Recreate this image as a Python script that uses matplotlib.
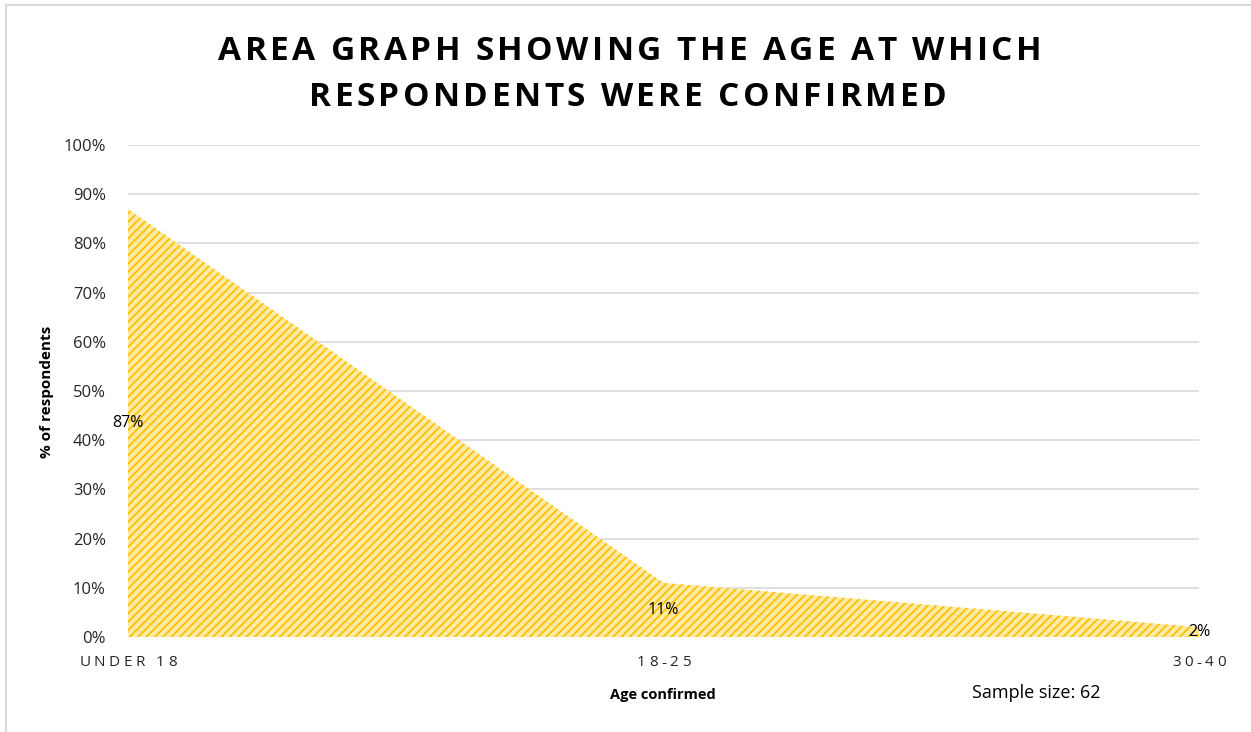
import matplotlib
matplotlib.use("Agg")
import matplotlib.pyplot as plt
from matplotlib.lines import Line2D

categories = ["UNDER 18", "18-25", "30-40"]
values = [87, 11, 2]
yticks = [0, 10, 20, 30, 40, 50, 60, 70, 80, 90, 100]
title_lines = ["AREA GRAPH SHOWING THE AGE AT WHICH", "RESPONDENTS WERE CONFIRMED"]

plt.rcParams['font.family'] = ['Open Sans', 'DejaVu Sans']
plt.rcParams['hatch.color'] = '#FFC000'
plt.rcParams['hatch.linewidth'] = 1.3

W, H = 1251, 732
fig = plt.figure(figsize=(W/100, H/100), dpi=100)
ax = fig.add_axes([128/W, 1-637/H, (1199-128)/W, (637-145)/H])

x = list(range(len(categories)))
ax.fill_between(x, values, 0, facecolor='#FFEBA8', edgecolor='#FFC000', hatch='////', linewidth=0)
ax.set_xlim(0, len(categories)-1)
ax.set_ylim(0, 100)
ax.set_yticks(yticks)
ax.set_yticklabels([f"{v}%" for v in yticks], fontsize=12, color='#262626')
ax.yaxis.grid(True, color='#D9D9D9', linewidth=1.2)
ax.set_axisbelow(True)
ax.tick_params(axis='y', length=0, pad=16)
ax.tick_params(axis='x', length=0)
ax.set_xticks(x)
ax.set_xticklabels([])
for s in ax.spines.values():
    s.set_visible(False)

for xi, v in zip(x, values):
    ax.text(xi, v/2, f"{v}%", ha='center', va='center', fontsize=11.5, color='#000000')

renderer = fig.canvas.get_renderer()

def spaced_text(xc, yc, s, spacing, **kw):
    # place characters individually with extra letter spacing (pixel coords)
    widths = []
    for ch in s:
        t = fig.text(0, 0, ch if ch != ' ' else 'n', **kw)
        w = t.get_window_extent(renderer).width
        if ch == ' ':
            t2 = fig.text(0, 0, 'n n', **kw)
            t3 = fig.text(0, 0, 'nn', **kw)
            w = t2.get_window_extent(renderer).width - t3.get_window_extent(renderer).width
            t2.remove(); t3.remove()
        t.remove()
        widths.append(w)
    total = sum(widths) + spacing*(len(s)-1)
    cur = xc - total/2
    for ch, w in zip(s, widths):
        if ch != ' ':
            fig.text(cur/W, 1-yc/H, ch, ha='left', va='center', **kw)
        cur += w + spacing

spaced_text(630, 52, title_lines[0], 3.4, fontsize=24, fontweight='bold', color='#000000')
spaced_text(628, 97, title_lines[1], 3.4, fontsize=24, fontweight='bold', color='#000000')

xpix = [128 + (1199-128)*xi/(len(categories)-1) for xi in x]
for xp, c in zip(xpix, categories):
    spaced_text(xp, 663, c, 3.5, fontsize=11, color='#262626')

fig.text(663/W, 1-695/H, "Age confirmed", ha='center', va='center', fontsize=10.5,
         fontweight='bold', color='#000000')
fig.text(47/W, 1-392/H, "% of respondents", ha='center', va='center', rotation=90,
         fontsize=11, fontweight='bold', color='#000000')
fig.text(1036/W, 1-693/H, "Sample size: 62", ha='center', va='center', fontsize=13,
         color='#000000')

fig.add_artist(Line2D([6/W, 6/W], [0, 1-5/H], color='#D9D9D9', linewidth=1.5, transform=fig.transFigure))
fig.add_artist(Line2D([6/W, 1], [1-5/H, 1-5/H], color='#D9D9D9', linewidth=1.5, transform=fig.transFigure))

fig.savefig("out.png", dpi=100)
